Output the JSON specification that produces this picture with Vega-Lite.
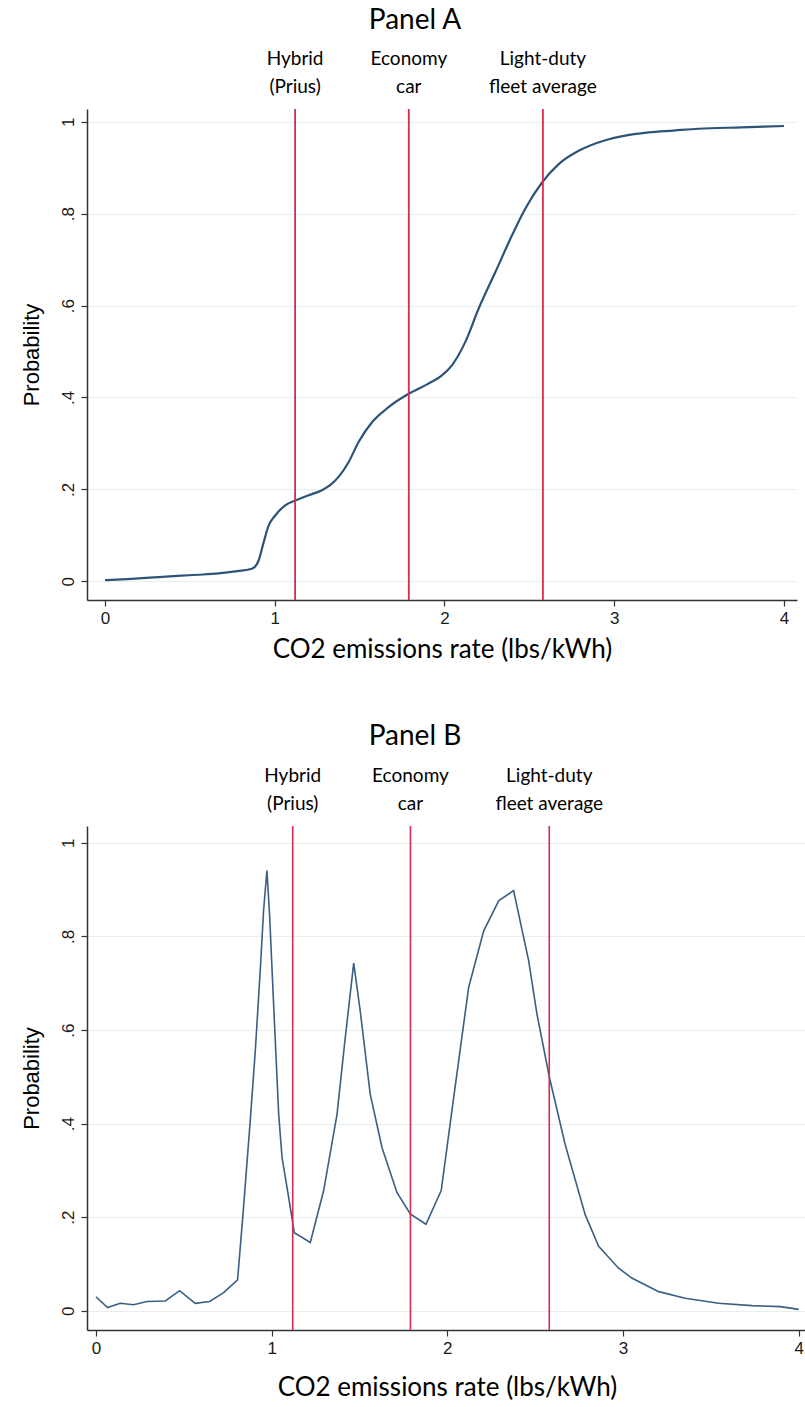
{
  "$schema": "https://vega.github.io/schema/vega-lite/v6.json",
  "background": "white",
  "padding": {"left": 20, "top": 7, "right": 0, "bottom": 0},
  "spacing": 61,
  "datasets": {
    "cdf": [
      {"x": 0, "p": 0.002}, {"x": 0.1, "p": 0.004}, {"x": 0.2, "p": 0.006}, {"x": 0.316, "p": 0.009},
      {"x": 0.45, "p": 0.012}, {"x": 0.55, "p": 0.014}, {"x": 0.669, "p": 0.017}, {"x": 0.78, "p": 0.022},
      {"x": 0.866, "p": 0.027}, {"x": 0.905, "p": 0.045}, {"x": 0.935, "p": 0.085}, {"x": 0.964, "p": 0.121},
      {"x": 1.003, "p": 0.143}, {"x": 1.062, "p": 0.165}, {"x": 1.125, "p": 0.176}, {"x": 1.2, "p": 0.187},
      {"x": 1.278, "p": 0.198}, {"x": 1.33, "p": 0.21}, {"x": 1.376, "p": 0.227}, {"x": 1.435, "p": 0.259},
      {"x": 1.494, "p": 0.303}, {"x": 1.573, "p": 0.346}, {"x": 1.671, "p": 0.379}, {"x": 1.789, "p": 0.408},
      {"x": 1.9, "p": 0.429}, {"x": 1.985, "p": 0.448}, {"x": 2.044, "p": 0.47}, {"x": 2.123, "p": 0.521},
      {"x": 2.201, "p": 0.593}, {"x": 2.3, "p": 0.673}, {"x": 2.398, "p": 0.753}, {"x": 2.476, "p": 0.811},
      {"x": 2.575, "p": 0.868}, {"x": 2.673, "p": 0.908}, {"x": 2.791, "p": 0.937}, {"x": 2.948, "p": 0.96},
      {"x": 3.05, "p": 0.969}, {"x": 3.203, "p": 0.977}, {"x": 3.35, "p": 0.981}, {"x": 3.498, "p": 0.985},
      {"x": 3.75, "p": 0.988}, {"x": 4.0, "p": 0.991}
    ],
    "pdf": [
      {"x": 0, "p": 0.03}, {"x": 0.066, "p": 0.007}, {"x": 0.138, "p": 0.016}, {"x": 0.214, "p": 0.013},
      {"x": 0.29, "p": 0.02}, {"x": 0.395, "p": 0.021}, {"x": 0.476, "p": 0.043}, {"x": 0.565, "p": 0.016},
      {"x": 0.647, "p": 0.02}, {"x": 0.727, "p": 0.039}, {"x": 0.806, "p": 0.066}, {"x": 0.84, "p": 0.221},
      {"x": 0.878, "p": 0.406}, {"x": 0.907, "p": 0.556}, {"x": 0.935, "p": 0.727}, {"x": 0.954, "p": 0.855},
      {"x": 0.973, "p": 0.941}, {"x": 0.988, "p": 0.848}, {"x": 1.011, "p": 0.656}, {"x": 1.04, "p": 0.42},
      {"x": 1.059, "p": 0.328}, {"x": 1.097, "p": 0.242}, {"x": 1.129, "p": 0.167}, {"x": 1.22, "p": 0.146},
      {"x": 1.296, "p": 0.257}, {"x": 1.372, "p": 0.42}, {"x": 1.419, "p": 0.584}, {"x": 1.467, "p": 0.743},
      {"x": 1.504, "p": 0.641}, {"x": 1.561, "p": 0.463}, {"x": 1.628, "p": 0.349}, {"x": 1.713, "p": 0.253},
      {"x": 1.789, "p": 0.207}, {"x": 1.878, "p": 0.185}, {"x": 1.965, "p": 0.257}, {"x": 2.026, "p": 0.428},
      {"x": 2.093, "p": 0.613}, {"x": 2.121, "p": 0.691}, {"x": 2.207, "p": 0.812}, {"x": 2.292, "p": 0.876},
      {"x": 2.377, "p": 0.898}, {"x": 2.463, "p": 0.748}, {"x": 2.51, "p": 0.634}, {"x": 2.582, "p": 0.497},
      {"x": 2.671, "p": 0.355}, {"x": 2.785, "p": 0.205}, {"x": 2.861, "p": 0.138}, {"x": 2.975, "p": 0.091},
      {"x": 3.05, "p": 0.07}, {"x": 3.203, "p": 0.041}, {"x": 3.354, "p": 0.027}, {"x": 3.544, "p": 0.016},
      {"x": 3.734, "p": 0.011}, {"x": 3.895, "p": 0.009}, {"x": 4.0, "p": 0.003}
    ],
    "refs": [
      {"x": 1.12, "label": "Hybrid\n(Prius)"},
      {"x": 1.79, "label": "Economy\ncar"},
      {"x": 2.58, "label": "Light-duty\nfleet average"}
    ]
  },
  "config": {
    "view": {"stroke": null},
    "axis": {
      "labelFont": "Liberation Sans",
      "labelFontSize": 17,
      "labelColor": "#1a1a1a",
      "domainColor": "#333333",
      "domainWidth": 1.5,
      "tickColor": "#333333",
      "tickWidth": 1.2,
      "tickSize": 6,
      "labelPadding": 4,
      "gridColor": "#e6eef0",
      "gridWidth": 1.2,
      "titleColor": "#000000",
      "titleFontWeight": "normal"
    },
    "axisX": {"grid": false, "titleFont": "Lato", "titleFontSize": 26, "titlePadding": 10},
    "axisY": {"titleFont": "Liberation Sans", "titleFontSize": 22, "titlePadding": 16},
    "title": {"font": "Lato", "fontSize": 28, "fontWeight": "normal", "color": "#000000", "frame": "group"}
  },
  "vconcat": [
    {
      "title": {"text": "Panel A", "dx": -27, "offset": 15},
      "width": 710,
      "height": 491,
      "layer": [
        {
          "data": {"name": "cdf"},
          "mark": {"type": "line", "color": "#2d5478", "strokeWidth": 2.2, "interpolate": "monotone"},
          "encoding": {
            "x": {"field": "x", "type": "quantitative", "scale": {"domain": [-0.106, 4.077], "nice": false, "zero": false},
                  "axis": {"values": [0, 1, 2, 3, 4], "format": "d", "title": "CO2 emissions rate (lbs/kWh)"}},
            "y": {"field": "p", "type": "quantitative", "scale": {"domain": [-0.041, 1.028], "nice": false, "zero": false},
                  "axis": {"values": [0, 0.2, 0.4, 0.6, 0.8, 1], "labelAngle": -90, "labelAlign": "center", "labelBaseline": "bottom",
                           "labelExpr": "datum.value == 0 ? '0' : datum.value == 1 ? '1' : replace(format(datum.value, '.1f'), '0.', '.')",
                           "title": "Probability"}}
          }
        },
        {
          "data": {"name": "refs"},
          "mark": {"type": "rule", "color": "#d62d50", "strokeWidth": 1.8},
          "encoding": {"x": {"field": "x", "type": "quantitative"}}
        },
        {
          "data": {"name": "refs"},
          "mark": {"type": "text", "lineBreak": "\n", "baseline": "middle", "dy": -50, "clip": false, "font": "Lato", "fontSize": 19, "lineHeight": 28, "color": "#000000"},
          "encoding": {
            "x": {"field": "x", "type": "quantitative"},
            "y": {"datum": 1.028, "type": "quantitative"},
            "text": {"field": "label"}
          }
        }
      ]
    },
    {
      "title": {"text": "Panel B", "dx": -32, "offset": 16},
      "width": 720,
      "height": 504,
      "layer": [
        {
          "data": {"name": "pdf"},
          "mark": {"type": "line", "color": "#3a5f83", "strokeWidth": 1.6},
          "encoding": {
            "x": {"field": "x", "type": "quantitative", "scale": {"domain": [-0.051, 4.047], "nice": false, "zero": false},
                  "axis": {"values": [0, 1, 2, 3, 4], "format": "d", "title": "CO2 emissions rate (lbs/kWh)", "titlePadding": 18}},
            "y": {"field": "p", "type": "quantitative", "scale": {"domain": [-0.041, 1.036], "nice": false, "zero": false},
                  "axis": {"values": [0, 0.2, 0.4, 0.6, 0.8, 1], "labelAngle": -90, "labelAlign": "center", "labelBaseline": "bottom",
                           "labelExpr": "datum.value == 0 ? '0' : datum.value == 1 ? '1' : replace(format(datum.value, '.1f'), '0.', '.')",
                           "title": "Probability"}}
          }
        },
        {
          "data": {"name": "refs"},
          "mark": {"type": "rule", "color": "#d62d50", "strokeWidth": 1.6},
          "encoding": {"x": {"field": "x", "type": "quantitative"}}
        },
        {
          "data": {"name": "refs"},
          "mark": {"type": "text", "lineBreak": "\n", "baseline": "middle", "dy": -50, "clip": false, "font": "Lato", "fontSize": 19, "lineHeight": 28, "color": "#000000"},
          "encoding": {
            "x": {"field": "x", "type": "quantitative"},
            "y": {"datum": 1.036, "type": "quantitative"},
            "text": {"field": "label"}
          }
        }
      ]
    }
  ]
}
